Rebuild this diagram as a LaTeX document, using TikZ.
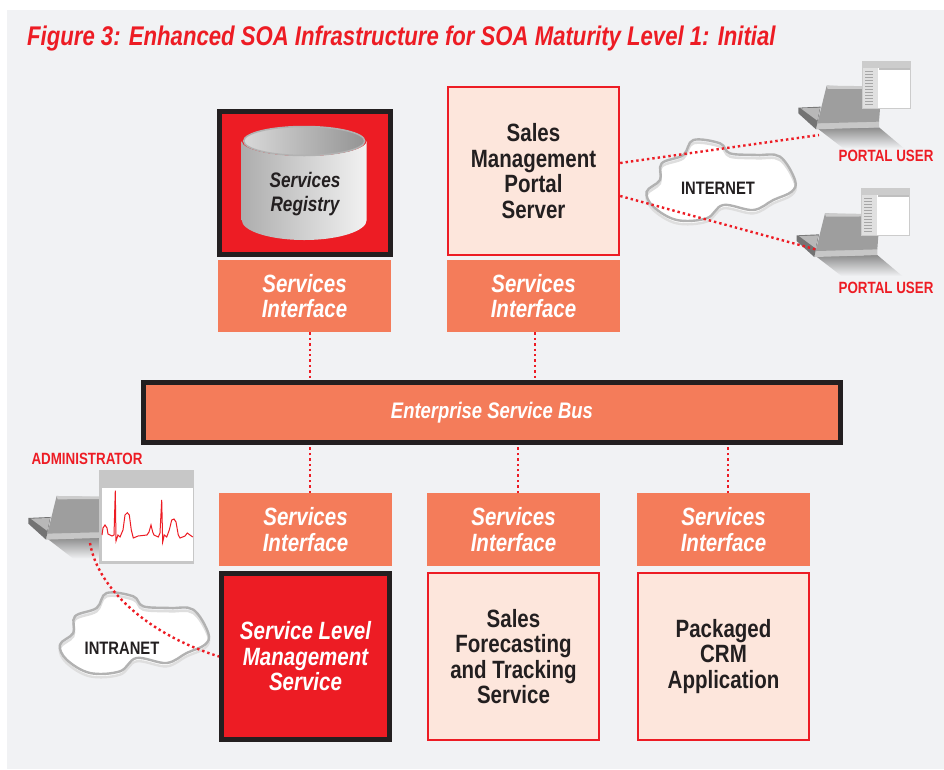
\documentclass[tikz,border=0pt]{standalone}
\usepackage{fontspec}
\setmainfont[FakeStretch=0.82]{Liberation Sans}
\definecolor{panelgray}{HTML}{F1F2F4}
\definecolor{soared}{HTML}{ED1C24}
\definecolor{ifaceorange}{HTML}{F47C5A}
\definecolor{palepeach}{HTML}{FDE6DC}
\definecolor{darkline}{HTML}{231F20}
\tikzset{
  ifacebox/.style={fill=ifaceorange,minimum width=173pt,minimum height=72.5pt,inner sep=0pt,align=center,text=white,font=\fontsize{25}{25.5}\selectfont\bfseries\itshape},
  peachbox/.style={draw=soared,line width=2.4pt,fill=palepeach,inner sep=0pt,align=center,text=darkline,font=\fontsize{25}{25.5}\selectfont\bfseries},
  redbox/.style={draw=darkline,line width=5pt,fill=soared,inner sep=0pt,align=center},
  reddot/.style={draw=soared,line width=2.4pt,dash pattern=on 2.4pt off 3pt},
  usertext/.style={text=soared,inner sep=0pt,font=\fontsize{16.3}{18}\selectfont\bfseries},
  nettext/.style={text=darkline,inner sep=0pt,font=\fontsize{18}{20}\selectfont\bfseries},
}
% laptop and its shadow, drawn at 1/3 scale
\newcommand{\laptop}[2]{
\begin{scope}[shift={(#1,#2)},scale=0.3333]
\shade[top color=black!45,bottom color=panelgray] (112,175) -- (297,172) -- (372,235) -- (190,235) -- cycle;
\fill[black!22] (112,158) -- (297,153) -- (297,172) -- (108,178) -- cycle;
\fill[black!38] (140,47) -- (305,52) -- (297,155) -- (112,160) -- cycle;
\fill[black!20] (140,47) -- (305,49) -- (305,56) -- (143,57) -- cycle;
\fill[black!55] (55,113) -- (122,110) -- (108,178) -- (55,130) -- cycle;
\fill[black!28] (62,115) -- (120,113) -- (112,152) -- cycle;
\end{scope}
}
% small browser window of the portal users
\newcommand{\portalwin}[2]{
\begin{scope}[shift={(#1,#2)}]
\fill[black!20] (0,0) rectangle (49,48);
\fill[white] (1,7) rectangle (48,47);
\fill[black!12] (1,7) rectangle (16,47);
\foreach \y in {10,13,...,43} \draw[black!35,line width=0.5pt] (3,\y) -- (11,\y);
\fill[black!25] (17,7) rectangle (48,9);
\end{scope}
}
% cloud outline, light copy behind the dark one
\newcommand{\netcloud}[2]{
\begin{scope}[shift={(#1,#2)},scale=0.3333]
\def\cloudpts{(110,185) (150,150) (155,100) (220,75) (250,30) (330,40) (360,70) (440,75) (510,80) (555,150) (545,185) (490,210) (430,240) (340,225) (290,265) (200,270) (130,230)}
\draw[black!13,line width=2.4pt,fill=white,yshift=-10pt] plot[smooth cycle,tension=0.6] coordinates {\cloudpts};
\draw[black!30,line width=2.4pt] plot[smooth cycle,tension=0.6] coordinates {\cloudpts};
\end{scope}
}
\begin{document}
\begin{tikzpicture}[x=1pt,y=-1pt]
\useasboundingbox (0,0) rectangle (944,769);
\fill[white] (0,0) rectangle (944,769);
\fill[panelgray] (7,10) rectangle (944,769);

\node[anchor=west,inner sep=0pt,text=soared,font=\fontsize{27}{30}\selectfont\bfseries\itshape] (title) at (27,39) {Figure 3: Enhanced SOA Infrastructure for SOA Maturity Level 1: Initial};

% top row
\node[redbox,minimum width=171pt,minimum height=143pt] (registry) at (305,183) {};
\shade[left color=black!32,right color=black!5] (241.7,141) -- (241.7,220) arc[start angle=180,end angle=0,x radius=62.5,y radius=20] -- (366.7,141) arc[start angle=0,end angle=180,x radius=62.5,y radius=15] -- cycle;
\shade[left color=black!15,right color=black!42,draw=black!30,line width=1.5pt] (304.2,141) ellipse[x radius=60.5,y radius=14.5];
\node[inner sep=0pt,align=center,text=darkline,font=\fontsize{21}{23.5}\selectfont\bfseries\itshape] (registrytext) at (305,194) {Services\\Registry};
\node[peachbox,minimum width=171pt,minimum height=168pt] (portal) at (533.5,171) {Sales\\Management\\Portal\\Server};
\node[ifacebox] (ifreg) at (304.5,296) {Services\\Interface};
\node[ifacebox] (ifportal) at (533.5,296) {Services\\Interface};

% bus
\node[redbox,fill=ifaceorange,minimum width=697pt,minimum height=60pt,text=white,font=\fontsize{22.5}{25}\selectfont\bfseries\itshape] (bus) at (492,412.5) {Enterprise Service Bus};

% bottom row
\node[ifacebox] (ifslm) at (305.5,529.5) {Services\\Interface};
\node[ifacebox] (ifsales) at (513.5,529.5) {Services\\Interface};
\node[ifacebox] (ifcrm) at (723.5,529.5) {Services\\Interface};
\node[redbox,minimum width=168pt,minimum height=166pt,text=white,font=\fontsize{25}{25.5}\selectfont\bfseries\itshape] (slm) at (305.5,656.5) {Service Level\\Management\\Service};
\node[peachbox,minimum width=171pt,minimum height=167pt] (sales) at (513.5,656.5) {Sales\\Forecasting\\and Tracking\\Service};
\node[peachbox,minimum width=171pt,minimum height=167pt] (crm) at (723.5,656.5) {Packaged\\CRM\\Application};

% users
\laptop{780}{70}
\portalwin{862}{61}
\laptop{778.3}{197.7}
\portalwin{861}{188}
\node[usertext] (userone) at (886,156) {PORTAL USER};
\node[usertext] (usertwo) at (886,288) {PORTAL USER};
\coordinate (laptopone) at (819,135);
\coordinate (laptoptwo) at (818,250);

\laptop{10}{480.3}
\fill[black!22] (99,470) rectangle (194,564);
\fill[white] (102,488) rectangle (193,561);
\draw[soared,line width=1pt] plot coordinates {(102,535) (103,528) (105,525) (107,528) (108,534) (112,536) (114,535) (115.3,490.7) (116,541) (118,535) (120,537) (123,530) (125,515) (127.3,512.7) (129.3,515) (131.3,530) (133.3,538) (138,536) (147,535) (149,532) (151,525) (152.7,532) (154,535) (158.3,537) (160,533) (161.7,500) (162.7,542) (164.3,535) (166.7,537) (169.3,530) (171.7,520) (174,519) (176,522) (178.3,535) (180,538) (185,536) (187.3,533) (190,535) (192.7,537)};
\node[usertext] (admintext) at (87,459) {ADMINISTRATOR};
\coordinate (laptopadmin) at (90,543);

% clouds
\netcloud{610}{130}
\node[nettext] (internet) at (718,188) {INTERNET};
\netcloud{23.3}{583}
\node[nettext] (intranet) at (122,648) {INTRANET};

% connectors
\draw[reddot] ([xshift=5.5pt]ifreg.south) -- ([xshift=5.5pt]ifreg.south |- bus.north);
\draw[reddot] ([xshift=1.5pt]ifportal.south) -- ([xshift=1.5pt]ifportal.south |- bus.north);
\draw[reddot] ([xshift=4.5pt]ifslm.north) -- ([xshift=4.5pt]ifslm.north |- bus.south);
\draw[reddot] ([xshift=4.5pt]ifsales.north) -- ([xshift=4.5pt]ifsales.north |- bus.south);
\draw[reddot] ([xshift=4.5pt]ifcrm.north) -- ([xshift=4.5pt]ifcrm.north |- bus.south);
\draw[reddot] ([yshift=8pt]portal.east) -- (laptopone);
\draw[reddot] ([yshift=-25pt]portal.east) -- (laptoptwo);
\draw[reddot] (laptopadmin) .. controls (98,590) and (150,635) .. (slm.west);

\end{tikzpicture}
\end{document}
